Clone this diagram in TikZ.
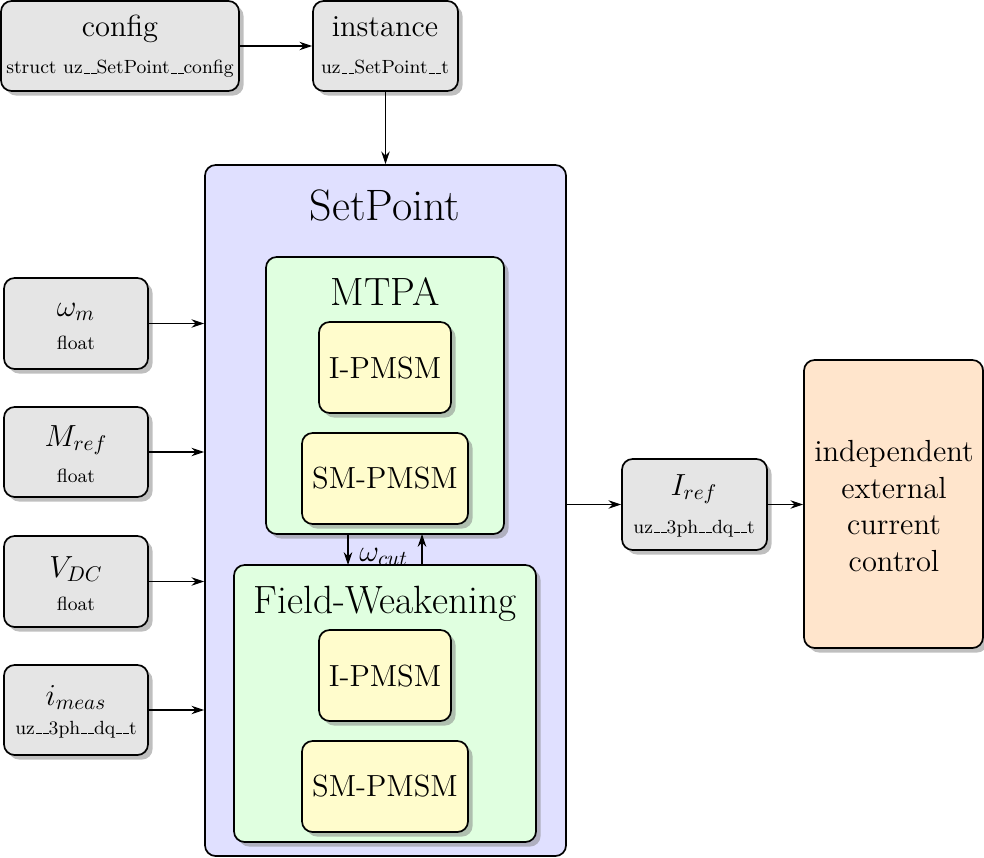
\documentclass[tikz,border=0pt]{standalone}
\usetikzlibrary{shadows,arrows.meta,fit}
\newcommand\usc{\kern.06em\vbox{\hrule width.3em}}
\begin{document}
\begin{tikzpicture}[x=0.4717pt,y=-0.4717pt,
  box/.style={draw, line width=0.8pt, rounded corners=5pt, inner sep=0pt},
  gbox/.style={box, fill=black!10, drop shadow},
  ybox/.style={box, fill=yellow!20, drop shadow},
  grbox/.style={box, fill=green!12, drop shadow},
  bbox/.style={box, fill=blue!12},
  obox/.style={box, fill=orange!20, drop shadow},
  big/.style={font=\Large, anchor=base, inner sep=0pt},
  tiny/.style={font=\small, anchor=base, inner sep=0pt},
  title/.style={font=\fontsize{18.6}{22}\selectfont, anchor=base, inner sep=0pt},
  arr/.style={-{Stealth[length=6pt,width=4pt]}, line width=0.5pt}]
\useasboundingbox (0,0) rectangle (984,857);

% top boxes
\node[gbox, fit={(1,1) (239,91)}] (config) {};
\node[big] (configt) at (120,37) {config};
\node[tiny] (configs) at (120,74) {struct uz\usc\usc SetPoint\usc\usc config};
\node[gbox, fit={(313,1) (458,91)}] (inst) {};
\node[big] (instt) at (385,37) {instance};
\node[tiny] (insts) at (385,74) {uz\usc\usc SetPoint\usc\usc t};

% SetPoint
\node[bbox, fit={(205,165) (566,856)}] (sp) {};
\node[font=\huge, anchor=base, inner sep=0pt] (spt) at (385,221) {SetPoint};

\node[grbox, fit={(266,257) (504,534)}] (mtpa) {};
\node[title] (mtpat) at (385,305) {MTPA};
\node[ybox, fit={(319,322) (451,413)}] (ip1) {};
\node[font=\Large] (ip1t) at (385,368) {I-PMSM};
\node[ybox, fit={(302,433) (468,524)}] (sm1) {};
\node[font=\Large] (sm1t) at (385,478) {SM-PMSM};

\node[grbox, fit={(234,565) (536,842)}] (fw) {};
\node[title] (fwt) at (385,613) {Field-Weakening};
\node[ybox, fit={(319,630) (451,721)}] (ip2) {};
\node[font=\Large] (ip2t) at (385,676) {I-PMSM};
\node[ybox, fit={(302,741) (468,832)}] (sm2) {};
\node[font=\Large] (sm2t) at (385,786) {SM-PMSM};

\coordinate (dn1) at (348,534);
\coordinate (dn2) at (348,565);
\coordinate (up1) at (422,565);
\coordinate (up2) at (422,534);
\draw[arr] (dn1) -- (dn2);
\draw[arr] (up1) -- (up2);
\node[font=\Large, anchor=base west, inner sep=0pt] (wcut) at (359,561) {$\omega_{cut}$};

% inputs
\node[gbox, fit={(4,278) (148,369)}] (wm) {};
\node[big] (wmt) at (76,316) {$\omega_m$};
\node[tiny] (wms) at (76,349) {float};
\node[gbox, fit={(4,407) (148,497)}] (mref) {};
\node[big] (mreft) at (76,446) {$M_{ref}$};
\node[tiny] (mrefs) at (76,482) {float};
\node[gbox, fit={(4,536) (148,627)}] (vdc) {};
\node[big] (vdct) at (76,577) {$V_{DC}$};
\node[tiny] (vdcs) at (76,610) {float};
\node[gbox, fit={(4,665) (148,755)}] (imeas) {};
\node[big] (imeast) at (76,705) {$i_{meas}$};
\node[tiny] (imeass) at (76,734) {uz\usc\usc 3ph\usc\usc dq\usc\usc t};

% output
\node[gbox, fit={(622,459) (767,550)}] (iref) {};
\node[big] (ireft) at (694,495) {$I_{ref}$};
\node[tiny] (irefs) at (694,533) {uz\usc\usc 3ph\usc\usc dq\usc\usc t};
\node[obox, fit={(804,360) (983,648)}] (cc) {};
\node[font=\fontsize{14.4}{17.4}\selectfont, align=center, anchor=center] (cct) at (894,506) {independent\\external\\current\\control};

% connectors
\draw[arr] (config.east) -- (inst.west);
\draw[arr] (inst.south) -- (sp.north);
\draw[arr] (wm.east) -- (sp.west |- wm.east);
\draw[arr] (mref.east) -- (sp.west |- mref.east);
\draw[arr] (vdc.east) -- (sp.west |- vdc.east);
\draw[arr] (imeas.east) -- (sp.west |- imeas.east);
\draw[arr] (sp.east |- iref.west) -- (iref.west);
\draw[arr] (iref.east) -- (cc.west |- iref.east);
\end{tikzpicture}
\end{document}
